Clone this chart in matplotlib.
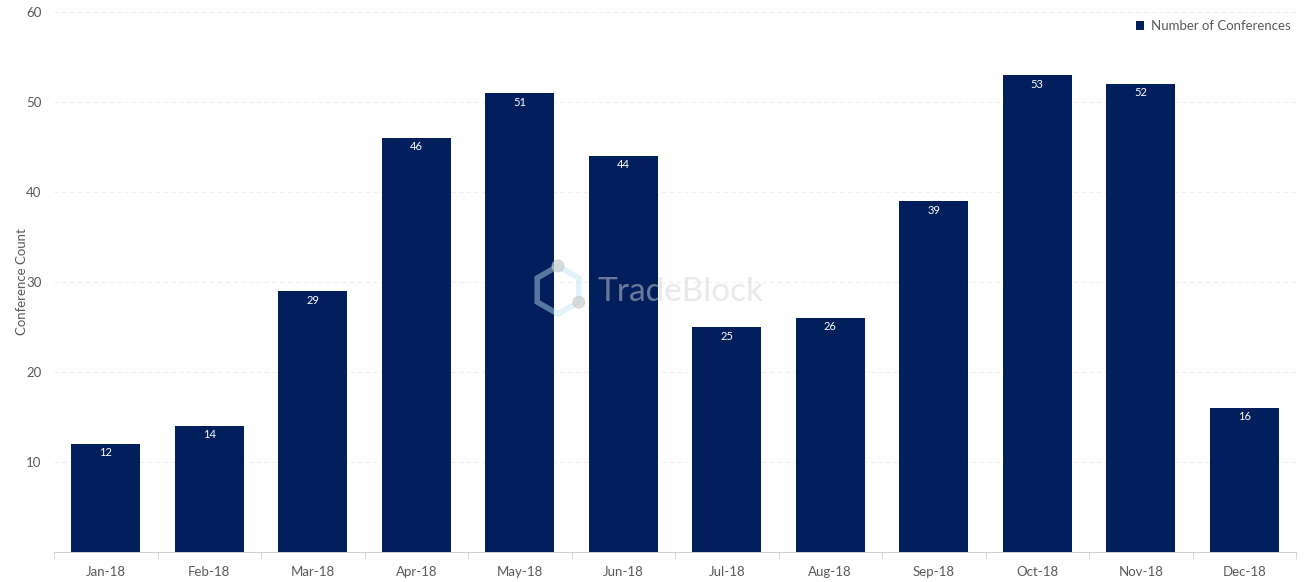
import matplotlib.pyplot as plt
import numpy as np
from matplotlib.patches import RegularPolygon, Circle

months = ["Jan-18", "Feb-18", "Mar-18", "Apr-18", "May-18", "Jun-18",
          "Jul-18", "Aug-18", "Sep-18", "Oct-18", "Nov-18", "Dec-18"]
conferences = [12, 14, 29, 46, 51, 44, 25, 26, 39, 53, 52, 16]

BAR_COLOR = "#001f5c"
TEXT_GRAY = "#595959"

plt.rcParams["font.family"] = ["Lato", "DejaVu Sans"]

fig = plt.figure(figsize=(13.06, 5.82), dpi=100)
ax = fig.add_axes([54 / 1306, 30 / 582, 1242 / 1306, 540 / 582])

x = np.arange(len(months))
bars = ax.bar(x, conferences, width=0.667, color=BAR_COLOR, zorder=3,
              label="Number of Conferences")

for xi, v in zip(x, conferences):
    ax.text(xi, v - 1.0, str(v), ha="center", va="center", color="white",
            fontsize=8, zorder=4)

ax.set_xlim(-0.5, len(months) - 0.5)
ax.set_ylim(0, 60)
ax.set_yticks([10, 20, 30, 40, 50, 60])
ax.set_xticks(x)
ax.set_xticklabels(months)
ax.set_xticks(np.arange(-0.5, len(months), 1.0), minor=True)

ax.tick_params(axis="x", which="major", length=0, pad=10, labelsize=9.5,
               labelcolor=TEXT_GRAY)
ax.tick_params(axis="x", which="minor", length=5, color="#d0d0d0")
ax.tick_params(axis="y", length=0, pad=9, labelsize=9.5, labelcolor=TEXT_GRAY)

ax.grid(axis="y", color="#efefef", linestyle=(0, (4, 3)), linewidth=0.8,
        zorder=0)
for s in ["top", "right", "left"]:
    ax.spines[s].set_visible(False)
ax.spines["bottom"].set_color("#d0d0d0")

ax.set_ylabel("Conference Count", fontsize=9.5, color=TEXT_GRAY)
ax.yaxis.set_label_coords(-26 / 1242, 0.5)

leg = ax.legend(loc="upper right", bbox_to_anchor=(1.0, 0.995), frameon=False,
                fontsize=9.5, handlelength=0.6, handleheight=0.6,
                handletextpad=0.5, borderaxespad=0.0)
for t in leg.get_texts():
    t.set_color(TEXT_GRAY)

# watermark
fig.text(598 / 1306, 1 - 292 / 582, "TradeBlock", fontsize=24, color="#d4d4d4",
         alpha=0.5, ha="left", va="center", zorder=10)
logo_ax = fig.add_axes([526 / 1306, 1 - 322 / 582, 64 / 1306, 64 / 582])
logo_ax.set_xlim(-1, 1)
logo_ax.set_ylim(-1, 1)
logo_ax.set_aspect("equal")
logo_ax.axis("off")
logo_ax.add_patch(RegularPolygon((0, 0), 6, radius=0.75, fill=False,
                                 edgecolor="#bfe3f5", linewidth=4, alpha=0.45))
logo_ax.add_patch(Circle((0.0, 0.75), 0.18, color="#c8c8c8", alpha=0.6))
logo_ax.add_patch(Circle((0.65, -0.38), 0.18, color="#c8c8c8", alpha=0.6))

fig.savefig("out.png", dpi=100)
